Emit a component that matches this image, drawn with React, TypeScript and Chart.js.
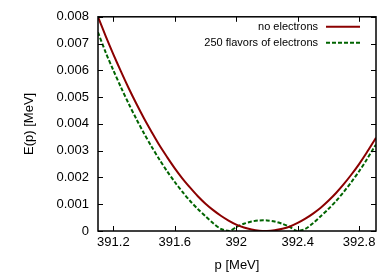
import { useEffect, useRef } from "react";
import { Chart, registerables } from "chart.js";

Chart.register(...registerables);

// momentum p [MeV]
const pValues = [
  391.1, 391.15, 391.2, 391.25, 391.3, 391.35, 391.4, 391.45, 391.5, 391.55,
  391.6, 391.65, 391.7, 391.75, 391.8, 391.85, 391.9, 391.95, 392.0, 392.05,
  392.1, 392.15, 392.2, 392.25, 392.3, 392.35, 392.4, 392.45, 392.5, 392.55,
  392.6, 392.65, 392.7, 392.75, 392.8, 392.85, 392.9, 392.91,
];

// E(p) [MeV], no electrons
const noElectrons = [
  0.008, 0.00728, 0.0066, 0.00595, 0.00533, 0.00475, 0.0042, 0.00369, 0.0032, 0.00276,
  0.00234, 0.00196, 0.00162, 0.0013, 0.00102, 0.00078, 0.00057, 0.00039, 0.00024, 0.00013,
  0.000055, 0.000011, 0.000001, 0.000024, 0.000081, 0.00017, 0.0003, 0.00046, 0.00065, 0.00087,
  0.00113, 0.00142, 0.00175, 0.00211, 0.0025, 0.00293, 0.00339, 0.00348,
];

// momentum p [MeV] for the 250-flavour curve
const pFlavors = [
  391.1, 391.15, 391.2, 391.25, 391.3, 391.35, 391.4, 391.45, 391.5, 391.55,
  391.6, 391.65, 391.7, 391.75, 391.8, 391.85, 391.9, 391.955, 392.0, 392.05,
  392.1, 392.15, 392.2, 392.25, 392.3, 392.35, 392.395, 392.45, 392.5, 392.55,
  392.6, 392.65, 392.7, 392.75, 392.8, 392.85, 392.9, 392.91,
];

// E(p) [MeV], 250 flavors of electrons
const flavors250 = [
  0.00742, 0.00667, 0.006, 0.00536, 0.00475, 0.00418, 0.00364, 0.00314, 0.00267, 0.00223,
  0.00183, 0.00146, 0.00112, 0.00082, 0.00055, 0.00029, 0.00008, 0.0, 0.000147, 0.00027,
  0.000354, 0.000395, 0.000395, 0.000354, 0.00027, 0.000147, 0.0, 0.00008, 0.00029, 0.00055,
  0.00082, 0.00112, 0.00146, 0.00183, 0.00223, 0.00267, 0.00314, 0.00322,
];

const xTicks = [391.2, 391.6, 392, 392.4, 392.8];
const yTicks = [0, 0.001, 0.002, 0.003, 0.004, 0.005, 0.006, 0.007, 0.008];
const legendLabels = ["no electrons", "250 flavors of electrons"];

const RED = "#8b0000";
const GREEN = "#006400";
const FONT = "'Liberation Sans', Arial, Helvetica, sans-serif";

const framePlugin = {
  id: "gnuplotFrame",
  afterDatasetsDraw(chart: any) {
    const { ctx, chartArea: a, scales } = chart;
    const tl = 5;
    ctx.save();
    ctx.strokeStyle = "#000";
    ctx.lineWidth = 1;
    ctx.beginPath();
    for (const v of xTicks) {
      const x = Math.round(scales.x.getPixelForValue(v)) + 0.5;
      ctx.moveTo(x, a.bottom);
      ctx.lineTo(x, a.bottom - tl);
      ctx.moveTo(x, a.top);
      ctx.lineTo(x, a.top + tl);
    }
    for (const v of yTicks) {
      const y = Math.round(scales.y.getPixelForValue(v)) + 0.5;
      ctx.moveTo(a.left, y);
      ctx.lineTo(a.left + tl, y);
      ctx.moveTo(a.right, y);
      ctx.lineTo(a.right - tl, y);
    }
    ctx.stroke();
    ctx.lineWidth = 1.5;
    ctx.strokeRect(a.left, a.top, a.right - a.left, a.bottom - a.top);

    // legend
    ctx.font = `11px ${FONT}`;
    ctx.fillStyle = "#000";
    ctx.textAlign = "right";
    ctx.textBaseline = "middle";
    const tx = a.right - 58;
    const sx0 = a.right - 50;
    const sx1 = a.right - 16;
    const rows = [a.top + 10, a.top + 26];
    chart.data.datasets.forEach((ds: any, i: number) => {
      const y = rows[i];
      ctx.fillText(legendLabels[i], tx, y + 0.5);
      ctx.beginPath();
      ctx.strokeStyle = ds.borderColor;
      ctx.lineWidth = ds.borderWidth;
      ctx.setLineDash(ds.borderDash || []);
      ctx.moveTo(sx0, y);
      ctx.lineTo(sx1, y);
      ctx.stroke();
    });
    ctx.setLineDash([]);
    ctx.restore();
  },
};

export default function App() {
  const ref = useRef<HTMLCanvasElement | null>(null);

  useEffect(() => {
    if (!ref.current) return;
    const chart = new Chart(ref.current, {
      type: "line",
      data: {
        datasets: [
          {
            label: legendLabels[0],
            data: pValues.map((p, i) => ({ x: p, y: noElectrons[i] })),
            borderColor: RED,
            borderWidth: 2,
            pointRadius: 0,
            tension: 0.3,
            fill: false,
          },
          {
            label: legendLabels[1],
            data: pFlavors.map((p, i) => ({ x: p, y: flavors250[i] })),
            borderColor: GREEN,
            borderWidth: 2,
            borderDash: [4, 2],
            pointRadius: 0,
            tension: 0.3,
            fill: false,
          },
        ],
      },
      plugins: [framePlugin],
      options: {
        animation: false,
        responsive: false,
        layout: { padding: { top: 15, right: 14, left: 0, bottom: 0 } },
        plugins: { legend: { display: false }, tooltip: { enabled: false } },
        scales: {
          x: {
            type: "linear",
            min: 391.1,
            max: 392.91,
            grid: { display: false, drawTicks: false },
            border: { display: false },
            afterBuildTicks: (s: any) => {
              s.ticks = xTicks.map((v) => ({ value: v }));
            },
            afterFit: (s: any) => {
              s.height = 42;
            },
            ticks: {
              color: "#000",
              padding: 4,
              maxRotation: 0,
              font: { family: FONT, size: 13 },
              callback: (v: any) => String(v),
            },
            title: {
              display: true,
              text: "p [MeV]",
              color: "#000",
              font: { family: FONT, size: 13 },
              padding: { top: 0, bottom: 0 },
            },
          },
          y: {
            type: "linear",
            min: 0,
            max: 0.008,
            grid: { display: false, drawTicks: false },
            border: { display: false },
            afterBuildTicks: (s: any) => {
              s.ticks = yTicks.map((v) => ({ value: v }));
            },
            afterFit: (s: any) => {
              s.width = 98;
            },
            ticks: {
              color: "#000",
              padding: 9,
              font: { family: FONT, size: 13 },
              callback: (v: any) => String(v),
            },
            title: {
              display: true,
              text: "E(p) [MeV]",
              color: "#000",
              font: { family: FONT, size: 13 },
              padding: { top: 22, bottom: 0 },
            },
          },
        },
      },
    });
    return () => chart.destroy();
  }, []);

  return (
    <div style={{ position: "absolute", left: 0, top: 0, width: 390, height: 273, background: "#fff" }}>
      <canvas ref={ref} width={390} height={273} style={{ display: "block" }} />
    </div>
  );
}
